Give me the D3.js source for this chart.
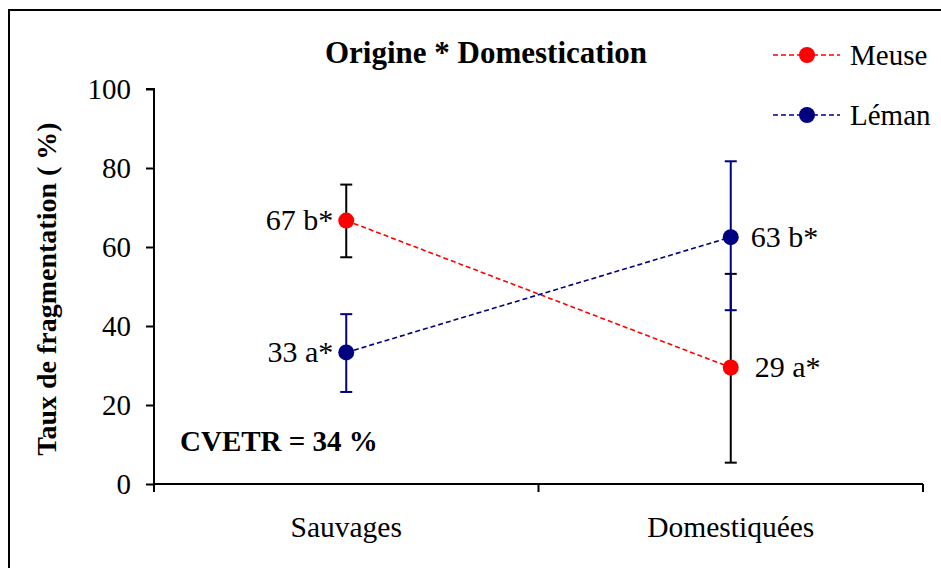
<!DOCTYPE html>
<html>
<head>
<meta charset="utf-8">
<script src="https://cdn.jsdelivr.net/npm/d3@7"></script>
<style>
  body { margin: 0; background: #fff; }
  text { font-family: "Liberation Serif", "Times New Roman", serif; fill: #000; }
</style>
</head>
<body>
<div id="chart"></div>
<script>
var width = 941, height = 568;

// data
var categories = ["Sauvages", "Domestiquées"];
var seriesNames = ["Meuse", "Léman"];
var meuseValues = [66.7, 29.5];
var meuseErrLow = [57.4, 5.4];
var meuseErrHigh = [75.8, 53.2];
var lemanValues = [33.3, 62.5];
var lemanErrLow = [23.3, 44.0];
var lemanErrHigh = [43.0, 81.7];
var meuseLabels = ["67 b*", "29 a*"];
var lemanLabels = ["33 a*", "63 b*"];
var yTicks = [0, 20, 40, 60, 80, 100];

var series = [
  { name: seriesNames[0], values: meuseValues, lo: meuseErrLow, hi: meuseErrHigh, labels: meuseLabels, color: "#ff0000", errColor: "#000000" },
  { name: seriesNames[1], values: lemanValues, lo: lemanErrLow, hi: lemanErrHigh, labels: lemanLabels, color: "#000080", errColor: "#000080" }
];

var svg = d3.select("#chart").append("svg")
    .attr("width", width)
    .attr("height", height);

// outer frame (runs off the picture on right and bottom)
svg.append("rect")
    .attr("x", 9).attr("y", 10)
    .attr("width", 1000).attr("height", 1000)
    .attr("fill", "none").attr("stroke", "#000").attr("stroke-width", 2);

var x = d3.scalePoint().domain(categories).range([154, 923]).padding(0.5);
var y = d3.scaleLinear().domain([0, 100]).range([484, 89]);

// y axis
var yAxis = svg.append("g").attr("transform", "translate(154,0)")
    .call(d3.axisLeft(y).tickValues(yTicks).tickSize(8).tickPadding(15));
yAxis.select(".domain").attr("stroke-width", 2).attr("d", "M-8," + y(100) + "H0V" + y(0));
yAxis.selectAll(".tick line").attr("stroke-width", 2);
yAxis.selectAll(".tick text").style("font-size", "29px").attr("dy", "0.33em");

// x axis with ticks between categories
svg.append("line")
    .attr("x1", 154).attr("x2", 923).attr("y1", y(0)).attr("y2", y(0))
    .attr("stroke", "#000").attr("stroke-width", 2);
var bounds = [154, (154 + 923) / 2, 923];
svg.selectAll(".xtick").data(bounds).enter().append("line")
    .attr("class", "xtick")
    .attr("x1", function(d){ return d; }).attr("x2", function(d){ return d; })
    .attr("y1", y(0)).attr("y2", y(0) + 8)
    .attr("stroke", "#000").attr("stroke-width", 2);
svg.selectAll(".xlab").data(categories).enter().append("text")
    .attr("class", "xlab")
    .attr("x", function(d){ return x(d); })
    .attr("y", 537)
    .attr("text-anchor", "middle")
    .style("font-size", "29.5px")
    .text(function(d){ return d; });

// y axis title
svg.append("text")
    .attr("transform", "translate(56,289) rotate(-90)")
    .attr("text-anchor", "middle")
    .style("font-size", "28px").style("font-weight", "bold")
    .text("Taux de fragmentation ( %)");

// chart title
svg.append("text")
    .attr("x", 486).attr("y", 63)
    .attr("text-anchor", "middle")
    .style("font-size", "31px").style("font-weight", "bold")
    .text("Origine * Domestication");

svg.append("text")
    .attr("x", 180).attr("y", 451)
    .style("font-size", "29px").style("font-weight", "bold")
    .text("CVETR = 34 %");

var line = d3.line()
    .x(function(d, i){ return x(categories[i]); })
    .y(function(d){ return y(d); });

series.forEach(function(s) {
  var g = svg.append("g");
  g.append("path")
      .attr("d", line(s.values))
      .attr("fill", "none").attr("stroke", s.color)
      .attr("stroke-width", 1.6).attr("stroke-dasharray", "5,3");
  categories.forEach(function(c, i) {
    var cx = x(c);
    g.append("line")
        .attr("x1", cx).attr("x2", cx).attr("y1", y(s.lo[i])).attr("y2", y(s.hi[i]))
        .attr("stroke", s.errColor).attr("stroke-width", 2);
    [s.lo[i], s.hi[i]].forEach(function(v) {
      g.append("line")
          .attr("x1", cx - 6).attr("x2", cx + 6).attr("y1", y(v)).attr("y2", y(v))
          .attr("stroke", s.errColor).attr("stroke-width", 2);
    });
  });
  g.selectAll("circle").data(s.values).enter().append("circle")
      .attr("cx", function(d, i){ return x(categories[i]); })
      .attr("cy", function(d){ return y(d); })
      .attr("r", 8)
      .attr("fill", s.color);
});

// point labels
series.forEach(function(s) {
  s.values.forEach(function(v, i) {
    var left = i === 0;
    svg.append("text")
        .attr("x", x(categories[i]) + (left ? -13 : (s.name === "Meuse" ? 24 : 20)))
        .attr("y", y(v))
        .attr("dy", "0.33em")
        .attr("text-anchor", left ? "end" : "start")
        .style("font-size", "30px")
        .text(s.labels[i]);
  });
});

// legend
var legend = svg.selectAll(".legend").data(series).enter().append("g")
    .attr("class", "legend")
    .attr("transform", function(d, i){ return "translate(773," + (55 + i * 60) + ")"; });
legend.append("line")
    .attr("x1", 0).attr("x2", 67).attr("y1", 0).attr("y2", 0)
    .attr("stroke", function(d){ return d.color; })
    .attr("stroke-width", 1.6).attr("stroke-dasharray", "5,3");
legend.append("circle")
    .attr("cx", 34).attr("cy", 0).attr("r", 8)
    .attr("fill", function(d){ return d.color; });
legend.append("text")
    .attr("x", 77).attr("y", 0).attr("dy", "0.33em")
    .style("font-size", "29px")
    .text(function(d){ return d.name; });
</script>
</body>
</html>
